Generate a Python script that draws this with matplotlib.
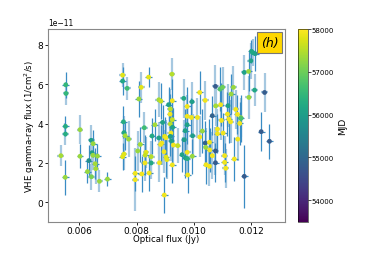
import matplotlib
matplotlib.use("Agg")
import matplotlib.pyplot as plt
import numpy as np

# optical flux (Jy), VHE flux (1e-11 1/cm2/s), MJD
opt = [0.00535, 0.00552, 0.00553, 0.00551, 0.00551, 0.00550, 0.00602, 0.00602,
       0.00641, 0.00648, 0.00644, 0.00633, 0.00647, 0.00628, 0.00642, 0.00655,
       0.00657, 0.00663, 0.00670, 0.00698, 0.00751, 0.00751, 0.00767, 0.00754,
       0.00756, 0.00760, 0.00772, 0.00751, 0.00756, 0.00808, 0.00816, 0.00842,
       0.00827, 0.00813, 0.00804, 0.00795, 0.00795, 0.00818, 0.00833, 0.00830,
       0.00829, 0.00844, 0.00851, 0.00854, 0.00851, 0.00864, 0.00878, 0.00885,
       0.00878, 0.00891, 0.00880, 0.00884, 0.00888, 0.00898, 0.00903, 0.00897,
       0.00896, 0.00903, 0.00906, 0.00912, 0.00924, 0.00925, 0.00918, 0.00917,
       0.00918, 0.00925, 0.00920, 0.00918, 0.00922, 0.00926, 0.00929, 0.00925,
       0.00944, 0.00959, 0.00965, 0.00970, 0.00967, 0.00971, 0.00978, 0.00977,
       0.00977, 0.00977, 0.00977, 0.00979, 0.00994, 0.00992, 0.00996, 0.00995,
       0.01013, 0.01021, 0.01021, 0.01030, 0.01040, 0.01040, 0.01042, 0.01043,
       0.01055, 0.01055, 0.01065, 0.01056, 0.01076, 0.01065, 0.01076, 0.01076,
       0.01083, 0.01083, 0.01077, 0.01092, 0.01101, 0.01094, 0.01097, 0.01103,
       0.01108, 0.01108, 0.01112, 0.01118, 0.01120, 0.01123, 0.01129, 0.01131,
       0.01139, 0.01142, 0.01147, 0.01153, 0.01154, 0.01161, 0.01165, 0.01165,
       0.01177, 0.01192, 0.01193, 0.01177, 0.01200, 0.01202, 0.01207, 0.01215,
       0.01213, 0.01236, 0.01248, 0.01265]
vhe = [2.37, 5.97, 5.53, 3.86, 3.47, 1.27, 3.69, 2.34,
       3.15, 2.98, 2.52, 2.12, 2.39, 1.56, 1.30, 1.96,
       1.71, 2.35, 1.07, 1.18, 6.46, 6.16, 5.79, 4.09,
       3.54, 3.38, 3.21, 2.32, 2.45, 5.25, 5.84, 6.36,
       3.79, 2.94, 2.61, 1.47, 1.15, 1.44, 2.54, 2.40,
       2.00, 1.49, 2.32, 3.37, 2.00, 3.94, 5.21, 5.14,
       3.27, 4.06, 2.01, 2.94, 3.01, 3.35, 3.28, 0.37,
       2.57, 2.30, 2.17, 4.96, 6.51, 5.16, 4.74, 4.48,
       3.98, 4.20, 3.52, 3.35, 3.11, 3.81, 2.91, 1.90,
       2.88, 2.42, 5.28, 3.64, 3.18, 2.25, 2.22, 4.87,
       4.37, 3.94, 2.54, 1.39, 5.11, 4.31, 3.38, 2.34,
       4.31, 5.58, 3.32, 3.62, 5.18, 3.01, 2.79, 1.91,
       1.83, 3.05, 2.37, 2.66, 5.89, 4.40, 2.61, 2.01,
       3.72, 3.49, 4.90, 5.75, 5.85, 4.96, 4.16, 3.52,
       2.37, 2.03, 1.73, 4.48, 4.91, 4.23, 4.09, 5.50,
       5.84, 2.20, 4.72, 4.47, 3.21, 4.01, 4.30, 4.26,
       6.60, 6.65, 5.33, 1.32, 7.19, 7.67, 7.60, 7.55,
       5.70, 3.59, 5.58, 3.10]
vhe_err = [0.55, 0.65, 0.60, 0.50, 0.55, 0.90, 0.75, 0.60,
           0.80, 0.70, 0.75, 0.80, 0.70, 0.60, 0.65, 0.80,
           0.80, 0.60, 0.55, 0.35, 0.60, 0.70, 0.60, 0.80,
           0.85, 0.70, 0.90, 0.70, 0.80, 0.90, 0.80, 0.50,
           0.80, 0.90, 1.00, 0.90, 1.60, 0.90, 0.80, 1.00,
           0.90, 0.90, 0.80, 0.90, 0.80, 0.80, 0.90, 0.90,
           0.80, 0.90, 1.00, 1.00, 1.10, 1.00, 0.90, 0.90,
           1.10, 1.00, 1.00, 0.90, 0.80, 1.10, 1.00, 1.00,
           0.90, 1.10, 1.20, 1.00, 1.00, 1.00, 0.90, 0.90,
           0.90, 0.90, 1.00, 1.10, 1.00, 1.00, 0.90, 1.00,
           1.10, 1.00, 1.00, 0.90, 1.00, 1.00, 1.10, 0.90,
           1.00, 1.10, 1.00, 1.10, 1.00, 1.10, 1.00, 1.00,
           1.00, 1.20, 1.20, 1.10, 1.10, 1.00, 1.20, 1.00,
           1.00, 1.00, 1.00, 1.10, 1.00, 1.10, 1.00, 1.00,
           1.00, 1.00, 1.00, 1.10, 1.10, 1.20, 1.10, 1.00,
           1.10, 1.10, 1.00, 1.00, 1.10, 1.10, 1.00, 1.20,
           0.90, 1.00, 1.10, 1.60, 0.90, 0.60, 0.70, 0.90,
           0.80, 1.00, 1.00, 0.90]
mjd = [57400, 56500, 56500, 56300, 56300, 57300, 57300, 57300,
       56000, 57300, 56000, 55700, 57300, 57300, 57100, 57400,
       57400, 57300, 57300, 57300, 57800, 56200, 56600, 56300,
       56200, 57400, 57300, 57800, 57800, 57300, 57800, 57800,
       56600, 57400, 57300, 57900, 57900, 57900, 57800, 57600,
       57900, 57900, 57500, 56200, 56200, 57400, 57400, 57600,
       56100, 56100, 57900, 57900, 57900, 57800, 57900, 57900,
       57900, 57800, 57800, 56000, 57500, 57900, 57500, 57900,
       57500, 57600, 57900, 56000, 56000, 56100, 57900, 57900,
       57600, 56100, 56200, 56100, 56000, 56100, 56300, 57900,
       57900, 56100, 57900, 57900, 56000, 57900, 56000, 57300,
       57900, 57900, 57900, 57300, 57900, 54900, 57300, 57900,
       57900, 57900, 57900, 57900, 54800, 54900, 54800, 54800,
       57900, 57900, 57400, 56800, 57000, 57900, 57900, 57900,
       57900, 57900, 57900, 57900, 56100, 57900, 57900, 57300,
       57300, 57900, 57900, 57900, 57900, 57900, 57300, 56700,
       56100, 57300, 57300, 54800, 56100, 56100, 56200, 56100,
       56200, 54800, 54800, 54800]

opt = np.array(opt)
vhe = np.array(vhe) * 1e-11
vhe_err = np.array(vhe_err) * 1e-11
mjd = np.array(mjd)
opt_err = np.full(len(opt), 0.00012)

fig = plt.figure(figsize=(3.82, 2.55), dpi=100)
ax = fig.add_axes([0.125, 0.127, 0.62, 0.755])
cax = fig.add_axes([0.78, 0.127, 0.025, 0.755])

faint = np.arange(len(opt)) % 2 == 0
ax.errorbar(opt[faint], vhe[faint], xerr=opt_err[faint], yerr=vhe_err[faint],
            fmt='none', ecolor='#a6c8e0', elinewidth=1.6, zorder=1)
ax.errorbar(opt[~faint], vhe[~faint], xerr=opt_err[~faint], yerr=vhe_err[~faint],
            fmt='none', ecolor='#3a8cc4', elinewidth=0.9, zorder=2)
sc = ax.scatter(opt, vhe, c=mjd, cmap='viridis', vmin=53500, vmax=58000,
                s=12, zorder=3, edgecolors='none')

ax.set_xlim(0.00489, 0.01318)
ax.set_ylim(-0.98e-11, 8.8e-11)
ax.set_xticks([0.006, 0.008, 0.010, 0.012])
ax.tick_params(labelsize=6.5, length=2, width=0.6, pad=1.2)
ax.yaxis.get_offset_text().set_fontsize(5.5)
ax.set_xlabel('Optical flux (Jy)', fontsize=6.2)
ax.set_ylabel('VHE gamma-ray flux (1/cm$^2$/s)', fontsize=6.2)
ax.yaxis.set_label_coords(-0.047, 0.5)
ax.xaxis.set_label_coords(0.5, -0.062)
for s in ax.spines.values():
    s.set_color('#888888')
    s.set_linewidth(0.8)

ax.text(0.975, 0.965, '(h)', transform=ax.transAxes, ha='right', va='top',
        fontsize=9, style='italic',
        bbox=dict(boxstyle='square,pad=0.3', facecolor='gold', edgecolor='#777777', linewidth=0.8))

cb = fig.colorbar(sc, cax=cax)
cb.set_ticks([54000, 55000, 56000, 57000, 58000])
cb.ax.tick_params(labelsize=5, length=2, width=0.5, pad=1)
cb.set_label('MJD', fontsize=6.5, labelpad=3)
cb.outline.set_linewidth(0.4)

fig.savefig('out.png', dpi=100)
